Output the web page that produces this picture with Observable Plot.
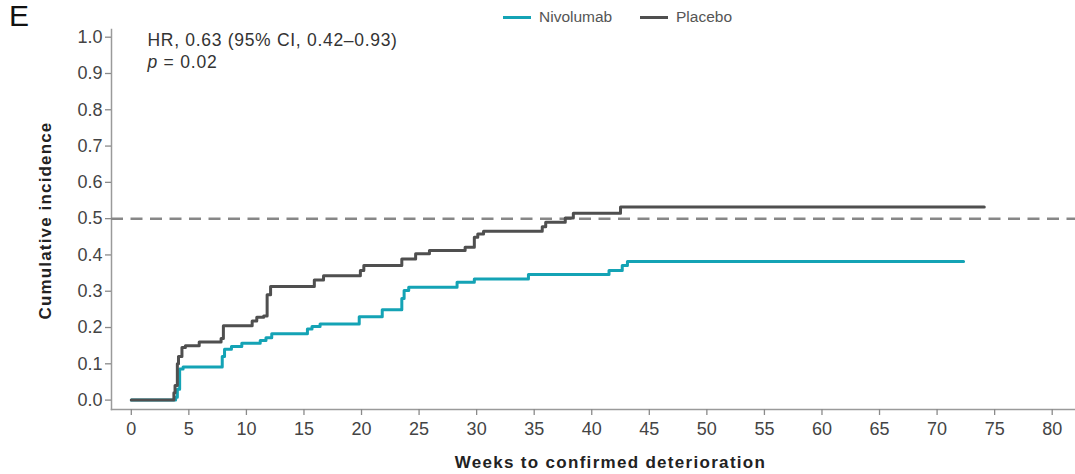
<!DOCTYPE html>
<html>
<head>
<meta charset="utf-8">
<script src="https://cdn.jsdelivr.net/npm/d3@7"></script>
<script src="https://cdn.jsdelivr.net/npm/@observablehq/plot@0.6"></script>
<style>
  body { margin: 0; background: #fff; font-family: "Liberation Sans", Arial, sans-serif; }
  #wrap { position: relative; width: 1075px; height: 474px; overflow: hidden; }
  #panel { position: absolute; left: 9px; top: 1px; font-size: 30px; color: #111; line-height: 1; }
  .item { position: absolute; top: 9px; display: flex; align-items: center; font-size: 15.5px; color: #555; line-height: 16px; }
  .sw { display: inline-block; width: 28px; height: 3px; margin-right: 8px; }
</style>
</head>
<body>
<div id="wrap">
  <div id="chart"></div>
  <div id="panel">E</div>
  <div id="legend"></div>
</div>
<script>
// ---- data ----
const seriesNames = ["Nivolumab", "Placebo"];
const seriesColors = ["#14a3b5", "#4f4f4f"];

const nivoWeeks = [0, 3.85, 4.0, 4.2, 4.5, 7.9, 8.1, 8.7, 9.6, 11.2, 11.7, 12.2, 15.3, 15.7, 16.4, 19.8, 21.8, 23.5, 23.7, 24.1, 28.3, 29.8, 34.5, 41.5, 42.65, 43.1, 72.3];
const nivoCum   = [0, 0.008, 0.03, 0.086, 0.091, 0.12, 0.14, 0.148, 0.157, 0.164, 0.172, 0.183, 0.196, 0.203, 0.21, 0.23, 0.249, 0.28, 0.302, 0.311, 0.325, 0.334, 0.346, 0.357, 0.371, 0.382, 0.382];

const placeboWeeks = [0, 3.7, 3.8, 4.0, 4.1, 4.4, 4.7, 5.9, 7.8, 8.0, 10.5, 10.9, 11.5, 11.8, 12.1, 15.9, 16.7, 19.9, 20.2, 23.5, 24.7, 25.9, 29.0, 29.8, 30.1, 30.6, 35.7, 36.0, 37.7, 38.4, 42.5, 74.1];
const placeboCum   = [0, 0.02, 0.04, 0.10, 0.12, 0.145, 0.15, 0.16, 0.17, 0.205, 0.218, 0.228, 0.232, 0.29, 0.313, 0.331, 0.343, 0.357, 0.371, 0.389, 0.403, 0.412, 0.421, 0.449, 0.458, 0.465, 0.478, 0.49, 0.502, 0.515, 0.532, 0.532];

const xTicks = [0, 5, 10, 15, 20, 25, 30, 35, 40, 45, 50, 55, 60, 65, 70, 75, 80];
const yTicks = [0, 0.1, 0.2, 0.3, 0.4, 0.5, 0.6, 0.7, 0.8, 0.9, 1.0];
const refLine = [0.5];

const xTitle = "Weeks to confirmed deterioration";
const yTitle = "Cumulative incidence";
const hrText = "HR, 0.63 (95% CI, 0.42\u20130.93)";
const pLetter = "p";
const pText = "= 0.02";

// ---- table ----
const rows = [
  ...nivoWeeks.map((w, i) => ({arm: seriesNames[0], week: w, cum: nivoCum[i]})),
  ...placeboWeeks.map((w, i) => ({arm: seriesNames[1], week: w, cum: placeboCum[i]}))
];

const font = "Liberation Sans, Arial, sans-serif";

const chart = Plot.plot({
  width: 1075,
  height: 474,
  marginTop: 29,
  marginBottom: 65,
  marginLeft: 111,
  marginRight: 0,
  insetTop: 7.7,
  insetBottom: 9.4,
  insetLeft: 19.8,
  insetRight: 23.3,
  style: {fontFamily: font, background: "white", color: "#444", overflow: "visible"},
  x: {domain: [0, 80], label: null},
  y: {domain: [0, 1], label: null},
  color: {domain: seriesNames, range: seriesColors},
  marks: [
    Plot.frame({anchor: "left", stroke: "#9a9a9a", strokeWidth: 1.5}),
    Plot.frame({anchor: "bottom", stroke: "#9a9a9a", strokeWidth: 1.5}),
    Plot.axisX({ticks: xTicks, tickSize: 6, tickPadding: 7, stroke: "#8a8a8a", strokeWidth: 1.3, fill: "#444", fontSize: 18, label: null}),
    Plot.axisY({ticks: yTicks, tickFormat: d => d.toFixed(1), tickSize: 6, tickPadding: 3, stroke: "#8a8a8a", strokeWidth: 1.3, fill: "#444", fontSize: 18, label: null}),
    Plot.ruleY(refLine, {stroke: "#878787", strokeWidth: 2.5, strokeDasharray: "12,7.5"}),
    Plot.line(rows.filter(d => d.arm === seriesNames[0]), {x: "week", y: "cum", stroke: "arm", curve: "step-after", strokeWidth: 3}),
    Plot.line(rows.filter(d => d.arm === seriesNames[1]), {x: "week", y: "cum", stroke: "arm", curve: "step-after", strokeWidth: 3}),
    Plot.text([xTitle], {frameAnchor: "bottom", dx: 17, dy: 53, fontWeight: "bold", fontSize: 17, fill: "#222", textAnchor: "middle", lineAnchor: "middle"}),
    Plot.text([yTitle], {frameAnchor: "left", rotate: -90, dx: -66, dy: 1, fontWeight: "bold", fontSize: 17, fill: "#222", textAnchor: "middle", lineAnchor: "middle"}),
    Plot.text([hrText], {frameAnchor: "top-left", dx: 36, dy: 11, fontSize: 17.5, fill: "#333", textAnchor: "start", lineAnchor: "middle"}),
    Plot.text([pLetter], {frameAnchor: "top-left", dx: 36, dy: 33, fontSize: 17.5, fontStyle: "italic", fill: "#333", textAnchor: "start", lineAnchor: "middle"}),
    Plot.text([pText], {frameAnchor: "top-left", dx: 52, dy: 33, fontSize: 17.5, fill: "#333", textAnchor: "start", lineAnchor: "middle"})
  ]
});
document.getElementById("chart").appendChild(chart);

// letter spacing tweaks to match the wide-set reference type
const spacing = new Map([[xTitle, "1.3px"], [yTitle, "1.15px"], [hrText, "0.7px"], [pText, "0.8px"]]);
chart.querySelectorAll("text").forEach(t => {
  const s = spacing.get(t.textContent);
  if (s) t.style.letterSpacing = s;
});

// ---- legend ----
const legendLeft = [503, 640];
const legend = document.getElementById("legend");
seriesNames.forEach((name, i) => {
  const item = document.createElement("div");
  item.className = "item";
  item.style.left = legendLeft[i] + "px";
  const sw = document.createElement("span");
  sw.className = "sw";
  sw.style.background = seriesColors[i];
  const label = document.createElement("span");
  label.textContent = name;
  item.appendChild(sw);
  item.appendChild(label);
  legend.appendChild(item);
});
</script>
</body>
</html>
